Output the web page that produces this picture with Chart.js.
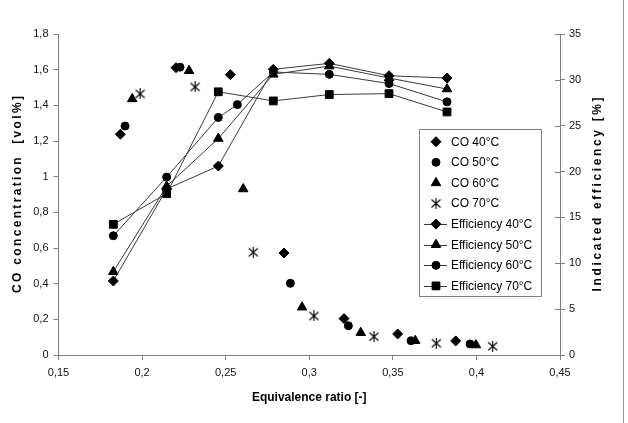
<!DOCTYPE html>
<html>
<head>
<meta charset="utf-8">
<script src="https://cdn.jsdelivr.net/npm/chart.js@4.4.1/dist/chart.umd.min.js"></script>
<style>
html, body { margin: 0; padding: 0; background: #fff; }
</style>
</head>
<body>
<canvas id="vis" width="628" height="423"></canvas>
<script>
// CO concentration [vol%] against equivalence ratio
const co40X = [0.187, 0.2203, 0.2528, 0.2849, 0.3208, 0.3529, 0.3876];
const co40Y = [1.238, 1.611, 1.572, 0.572, 0.204, 0.118, 0.079];
const co50X = [0.1898, 0.2227, 0.2887, 0.3234, 0.3609, 0.3962];
const co50Y = [1.284, 1.614, 0.402, 0.164, 0.080, 0.062];
const co60X = [0.1941, 0.2281, 0.2605, 0.2957, 0.3308, 0.3634, 0.3997];
const co60Y = [1.436, 1.594, 0.931, 0.268, 0.125, 0.080, 0.056];
const co70X = [0.1988, 0.2317, 0.2665, 0.3028, 0.3387, 0.376, 0.4097];
const co70Y = [1.464, 1.503, 0.576, 0.219, 0.103, 0.066, 0.049];

// indicated efficiency [%]
const effX = [0.1828, 0.2147, 0.2456, 0.2785, 0.312, 0.3477, 0.3824];
const eff40 = [8.07, 18.1, 20.6, 31.15, 31.8, 30.45, 30.2];
const eff50 = [9.08, 18.4, 23.6, 30.6, 31.5, 30.2, 29.0];
const eff60X = [0.1828, 0.2147, 0.2456, 0.257, 0.2785, 0.312, 0.3477, 0.3824];
const eff60 = [13.0, 19.4, 25.9, 27.3, 30.86, 30.6, 29.6, 27.6];
const eff70 = [14.25, 17.6, 28.7, 27.7, 28.4, 28.5, 26.5];

const legendLabels = ['CO 40°C', 'CO 50°C', 'CO 60°C', 'CO 70°C',
  'Efficiency 40°C', 'Efficiency 50°C', 'Efficiency 60°C', 'Efficiency 70°C'];

const FONT = "'Liberation Sans', Arial, sans-serif";

// asterisk marker (x with a vertical bar)
const star = document.createElement('canvas');
star.width = 11; star.height = 11;
(function () {
  const c = star.getContext('2d');
  c.strokeStyle = '#000';
  c.lineWidth = 1.1;
  c.beginPath();
  c.moveTo(1, 1.5); c.lineTo(10, 9.5);
  c.moveTo(10, 1.5); c.lineTo(1, 9.5);
  c.moveTo(5.5, 0); c.lineTo(5.5, 11);
  c.stroke();
})();

const pts = (xs, ys) => xs.map((x, i) => ({x: x, y: ys[i]}));
const fmt = v => String(Math.round(v * 100) / 100).replace('.', ',');

function coSet(label, xs, ys, style, r) {
  return {label: label, data: pts(xs, ys), yAxisID: 'y', showLine: false,
    pointStyle: style, pointRadius: r, pointHoverRadius: r,
    backgroundColor: '#000', borderColor: '#000', borderWidth: 1};
}
function effSet(label, xs, ys, style, r) {
  return {label: label, data: pts(xs, ys), yAxisID: 'y2', showLine: true,
    pointStyle: style, pointRadius: r, pointHoverRadius: r,
    backgroundColor: '#000', borderColor: '#3a3a3a', borderWidth: 1,
    pointBorderColor: '#000', pointBackgroundColor: '#000'};
}

const datasets = [
  coSet(legendLabels[0], co40X, co40Y, 'rectRot', 5),
  coSet(legendLabels[1], co50X, co50Y, 'circle', 4),
  coSet(legendLabels[2], co60X, co60Y, 'triangle', 5.5),
  coSet(legendLabels[3], co70X, co70Y, star, 5),
  effSet(legendLabels[4], effX, eff40, 'rectRot', 5),
  effSet(legendLabels[5], effX, eff50, 'triangle', 5.5),
  effSet(legendLabels[6], eff60X, eff60, 'circle', 4),
  effSet(legendLabels[7], effX, eff70, 'rect', 5.5)
];

function drawMarker(ctx, style, r, x, y) {
  ctx.fillStyle = '#000';
  ctx.strokeStyle = '#000';
  ctx.lineWidth = 1;
  if (Chart.helpers && Chart.helpers.drawPoint) {
    Chart.helpers.drawPoint(ctx, {pointStyle: style, radius: r, rotation: 0, borderWidth: 1}, x, y);
  }
}

function spacedText(ctx, text, cx, cy, rot, target) {
  ctx.save();
  ctx.font = 'bold 12px ' + FONT;
  ctx.fillStyle = '#000';
  ctx.textBaseline = 'middle';
  ctx.textAlign = 'left';
  const n = text.length;
  const w0 = ctx.measureText(text).width;
  if (target && 'letterSpacing' in ctx) {
    ctx.letterSpacing = ((target - w0) / (n - 1)).toFixed(2) + 'px';
  }
  const w = target && 'letterSpacing' in ctx ? target : w0;
  ctx.translate(cx, cy);
  ctx.rotate(rot);
  ctx.fillText(text, -w / 2, 0);
  ctx.restore();
}

const decor = {
  id: 'decor',
  afterDraw(chart) {
    const ctx = chart.ctx;
    const a = chart.chartArea;
    const cy = (a.top + a.bottom) / 2;

    // inner half of right axis ticks
    ctx.save();
    ctx.strokeStyle = '#808080';
    ctx.lineWidth = 1;
    const y2 = chart.scales.y2;
    y2.ticks.forEach(t => {
      const yy = Math.round(y2.getPixelForValue(t.value)) + 0.5;
      ctx.beginPath();
      ctx.moveTo(a.right - 5, yy);
      ctx.lineTo(a.right, yy);
      ctx.stroke();
    });
    // frame edge on the right
    ctx.strokeStyle = '#9a9a9a';
    ctx.beginPath();
    ctx.moveTo(623.5, 0);
    ctx.lineTo(623.5, 423);
    ctx.stroke();
    ctx.restore();

    // axis titles
    spacedText(ctx, 'CO concentration  [vol%]', 18, cy, -Math.PI / 2, 197);
    spacedText(ctx, 'Indicated efficiency [%]', 598, cy, -Math.PI / 2, 194);
    spacedText(ctx, 'Equivalence ratio [-]', (a.left + a.right) / 2, 398, 0, 0);

    // legend box
    ctx.save();
    ctx.fillStyle = '#fff';
    ctx.fillRect(419.5, 129.5, 122, 167);
    ctx.strokeStyle = '#808080';
    ctx.lineWidth = 1;
    ctx.strokeRect(419.5, 129.5, 122, 167);
    ctx.font = '12px ' + FONT;
    ctx.textBaseline = 'middle';
    ctx.textAlign = 'left';
    datasets.forEach((ds, i) => {
      const y = 141.7 + i * 20.6;
      if (ds.showLine) {
        ctx.strokeStyle = '#3a3a3a';
        ctx.beginPath();
        ctx.moveTo(424, Math.round(y) + 0.5);
        ctx.lineTo(447, Math.round(y) + 0.5);
        ctx.stroke();
      }
      drawMarker(ctx, ds.pointStyle, ds.pointRadius, 436, y);
      ctx.fillStyle = '#000';
      ctx.fillText(ds.label, 451, y + 0.5);
    });
    ctx.restore();
  }
};

const axisBase = {
  border: {display: true, color: '#808080', width: 1},
  grid: {drawOnChartArea: false, drawTicks: true, tickLength: 5, color: '#808080'},
  ticks: {color: '#111', font: {family: FONT, size: 11}, callback: v => fmt(v)}
};

const ctx = document.getElementById('vis').getContext('2d');
const myChart = new Chart(ctx, {
  type: 'scatter',
  data: {datasets: datasets},
  options: {
    responsive: false,
    animation: false,
    layout: {padding: {top: 34, left: 0, right: 0, bottom: 0}},
    plugins: {legend: {display: false}, tooltip: {enabled: false}},
    scales: {
      x: {
        type: 'linear', position: 'bottom', min: 0.15, max: 0.45,
        border: axisBase.border, grid: axisBase.grid,
        ticks: Object.assign({}, axisBase.ticks, {stepSize: 0.05, padding: 6, maxRotation: 0}),
        afterFit: s => { s.height = 68; }
      },
      y: {
        type: 'linear', position: 'left', min: 0, max: 1.8,
        border: axisBase.border, grid: axisBase.grid,
        ticks: Object.assign({}, axisBase.ticks, {stepSize: 0.2, padding: 5}),
        afterFit: s => { s.width = 58.5; }
      },
      y2: {
        type: 'linear', position: 'right', min: 0, max: 35,
        border: axisBase.border, grid: axisBase.grid,
        ticks: Object.assign({}, axisBase.ticks, {stepSize: 5, padding: 4}),
        afterFit: s => { s.width = 68; }
      }
    }
  },
  plugins: [decor]
});
</script>
</body>
</html>
